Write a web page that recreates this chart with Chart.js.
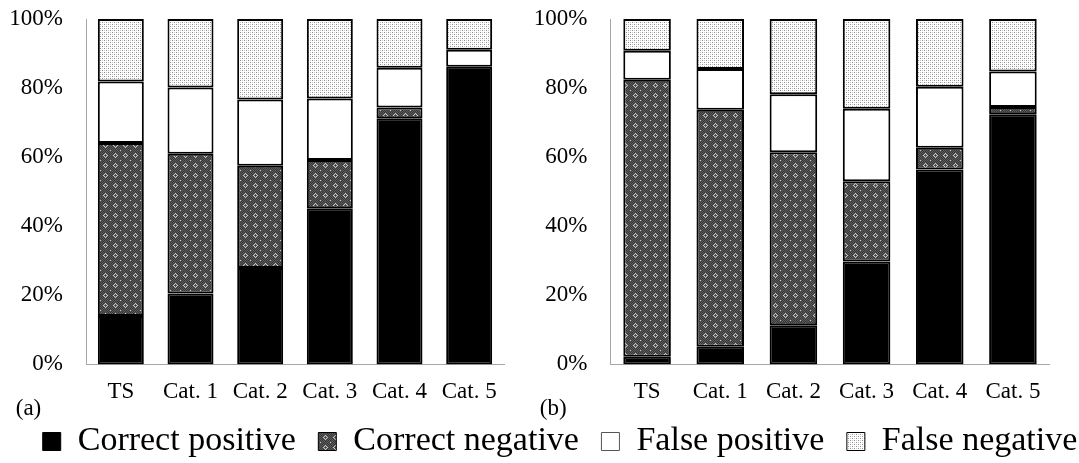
<!DOCTYPE html>
<html lang="en">
<head>
    <meta charset="UTF-8">
    <title>Classification results</title>
    <script src="https://cdn.jsdelivr.net/npm/chart.js"></script>
    <style>
        body {
            margin: 0;
            background: white;
        }

        .wrap {
            position: relative;
            width: 1079px;
            height: 463px;
            overflow: hidden;
        }

        .wrap canvas {
            position: absolute;
        }

        #chartA { left: 0; top: 0; }
        #chartB { left: 530px; top: 0; }
        #legendChart { left: 0; top: 402px; }
    </style>
</head>
<body>
    <div class="wrap">
        <canvas id="chartA" width="510" height="423"></canvas>
        <canvas id="chartB" width="549" height="423"></canvas>
        <canvas id="legendChart" width="1120" height="140"></canvas>
    </div>

    <script>
        const categories = ['TS', 'Cat. 1', 'Cat. 2', 'Cat. 3', 'Cat. 4', 'Cat. 5'];
        const seriesNames = ['Correct positive', 'Correct negative', 'False positive', 'False negative'];
        const yMin = 0;
        const yMax = 100;
        const yStep = 20;

        // panel (a), percent of each category
        const correctPositiveA = [14.0, 20.5, 27.9, 45.2, 71.3, 86.2];
        const correctNegativeA = [50.1, 40.5, 29.6, 14.0, 3.1, 0];
        const falsePositiveA = [17.8, 19.2, 19.2, 17.8, 11.5, 4.9];
        const falseNegativeA = [18.1, 19.8, 23.3, 23.0, 14.1, 8.9];

        // panel (b)
        const correctPositiveB = [2.2, 5.1, 11.3, 29.8, 56.4, 72.4];
        const correctNegativeB = [80.2, 68.6, 50.1, 23.2, 6.3, 2.1];
        const falsePositiveB = [8.4, 11.8, 16.8, 21.0, 17.7, 10.3];
        const falseNegativeB = [9.2, 14.5, 21.8, 26.0, 19.6, 15.2];

        const serif = "'Liberation Serif', 'Times New Roman', serif";

        function makePattern(size, draw) {
            const c = document.createElement('canvas');
            c.width = size;
            c.height = size;
            const g = c.getContext('2d');
            draw(g);
            return g.createPattern(c, 'repeat');
        }

        // dark checkered fill with small light diamonds
        const darkPattern = makePattern(10, function(g) {
            g.fillStyle = '#5a5a5a';
            g.fillRect(0, 0, 10, 10);
            g.fillStyle = '#383838';
            for (let x = 0; x < 10; x++) {
                for (let y = 0; y < 10; y++) {
                    if ((x + y) % 2 === 0) g.fillRect(x, y, 1, 1);
                }
            }
            g.fillStyle = '#c8c8c8';
            [[5, 3], [4, 4], [6, 4], [3, 5], [7, 5], [4, 6], [6, 6], [5, 7],
             [0, 0]].forEach(function(p) {
                g.fillRect(p[0], p[1], 1, 1);
            });
        });

        // light dotted fill
        const lightPattern = makePattern(4, function(g) {
            g.fillStyle = '#ffffff';
            g.fillRect(0, 0, 4, 4);
            g.fillStyle = '#8a8a8a';
            g.fillRect(0, 0, 1, 1);
            g.fillRect(2, 2, 1, 1);
            g.fillStyle = '#c8c8c8';
            g.fillRect(2, 0, 1, 1);
            g.fillRect(0, 2, 1, 1);
        });

        const fills = ['#000000', darkPattern, '#ffffff', lightPattern];

        function buildDatasets(values, barPct) {
            return values.map(function(v, i) {
                return {
                    label: seriesNames[i],
                    data: v,
                    backgroundColor: fills[i],
                    borderColor: '#000000',
                    borderWidth: 2,
                    borderSkipped: false,
                    categoryPercentage: 1,
                    barPercentage: barPct
                };
            });
        }

        // grid lines stay hidden; tickLength only spaces the labels from the axis
        function panelOptions(panelLabel, yWidth, padLeft, padRight) {
            return {
                responsive: false,
                animation: false,
                layout: {
                    padding: { left: padLeft, right: padRight, top: 19, bottom: 0 }
                },
                plugins: {
                    legend: { display: false },
                    tooltip: { enabled: false },
                    title: {
                        display: true,
                        text: panelLabel,
                        position: 'bottom',
                        align: 'start',
                        color: '#000',
                        padding: { top: -11, bottom: 0 },
                        font: { family: serif, size: 23, weight: 'normal' }
                    }
                },
                scales: {
                    x: {
                        stacked: true,
                        grid: { display: false, drawTicks: true, tickLength: 11 },
                        border: { display: true, color: '#a6a6a6', width: 1 },
                        ticks: {
                            color: '#000',
                            padding: 3,
                            maxRotation: 0,
                            font: { family: serif, size: 23 }
                        },
                        afterFit: function(scale) { scale.height = 42; }
                    },
                    y: {
                        stacked: true,
                        min: yMin,
                        max: yMax,
                        grid: { display: false, drawTicks: true, tickLength: 20 },
                        border: { display: true, color: '#a6a6a6', width: 1 },
                        ticks: {
                            color: '#000',
                            padding: 3,
                            stepSize: yStep,
                            font: { family: serif, size: 23 },
                            callback: function(v) { return v + '%'; }
                        },
                        afterFit: function(scale) { scale.width = yWidth; }
                    }
                }
            };
        }

        document.addEventListener('DOMContentLoaded', function() {
            new Chart(document.getElementById('chartA'), {
                type: 'bar',
                data: {
                    labels: categories,
                    datasets: buildDatasets([correctPositiveA, correctNegativeA, falsePositiveA, falseNegativeA], 0.66)
                },
                options: panelOptions(' (a)', 76, 10, 6)
            });

            new Chart(document.getElementById('chartB'), {
                type: 'bar',
                data: {
                    labels: categories,
                    datasets: buildDatasets([correctPositiveB, correctNegativeB, falsePositiveB, falseNegativeB], 0.65)
                },
                options: panelOptions(' (b)', 76.5, 4, 29.5)
            });

            // shared legend for both panels
            new Chart(document.getElementById('legendChart'), {
                type: 'bar',
                data: {
                    labels: [],
                    datasets: seriesNames.map(function(name, i) {
                        return {
                            label: name,
                            data: [],
                            backgroundColor: fills[i],
                            borderColor: i === 2 ? '#555555' : '#000000',
                            borderWidth: 1
                        };
                    })
                },
                options: {
                    responsive: false,
                    animation: false,
                    events: [],
                    plugins: {
                        tooltip: { enabled: false },
                        legend: {
                            display: true,
                            position: 'top',
                            labels: {
                                color: '#000',
                                boxWidth: 18,
                                boxHeight: 18,
                                padding: 22.5,
                                font: { family: serif, size: 34 }
                            }
                        }
                    },
                    scales: {
                        x: { display: false },
                        y: { display: false }
                    }
                }
            });
        });
    </script>
</body>
</html>
